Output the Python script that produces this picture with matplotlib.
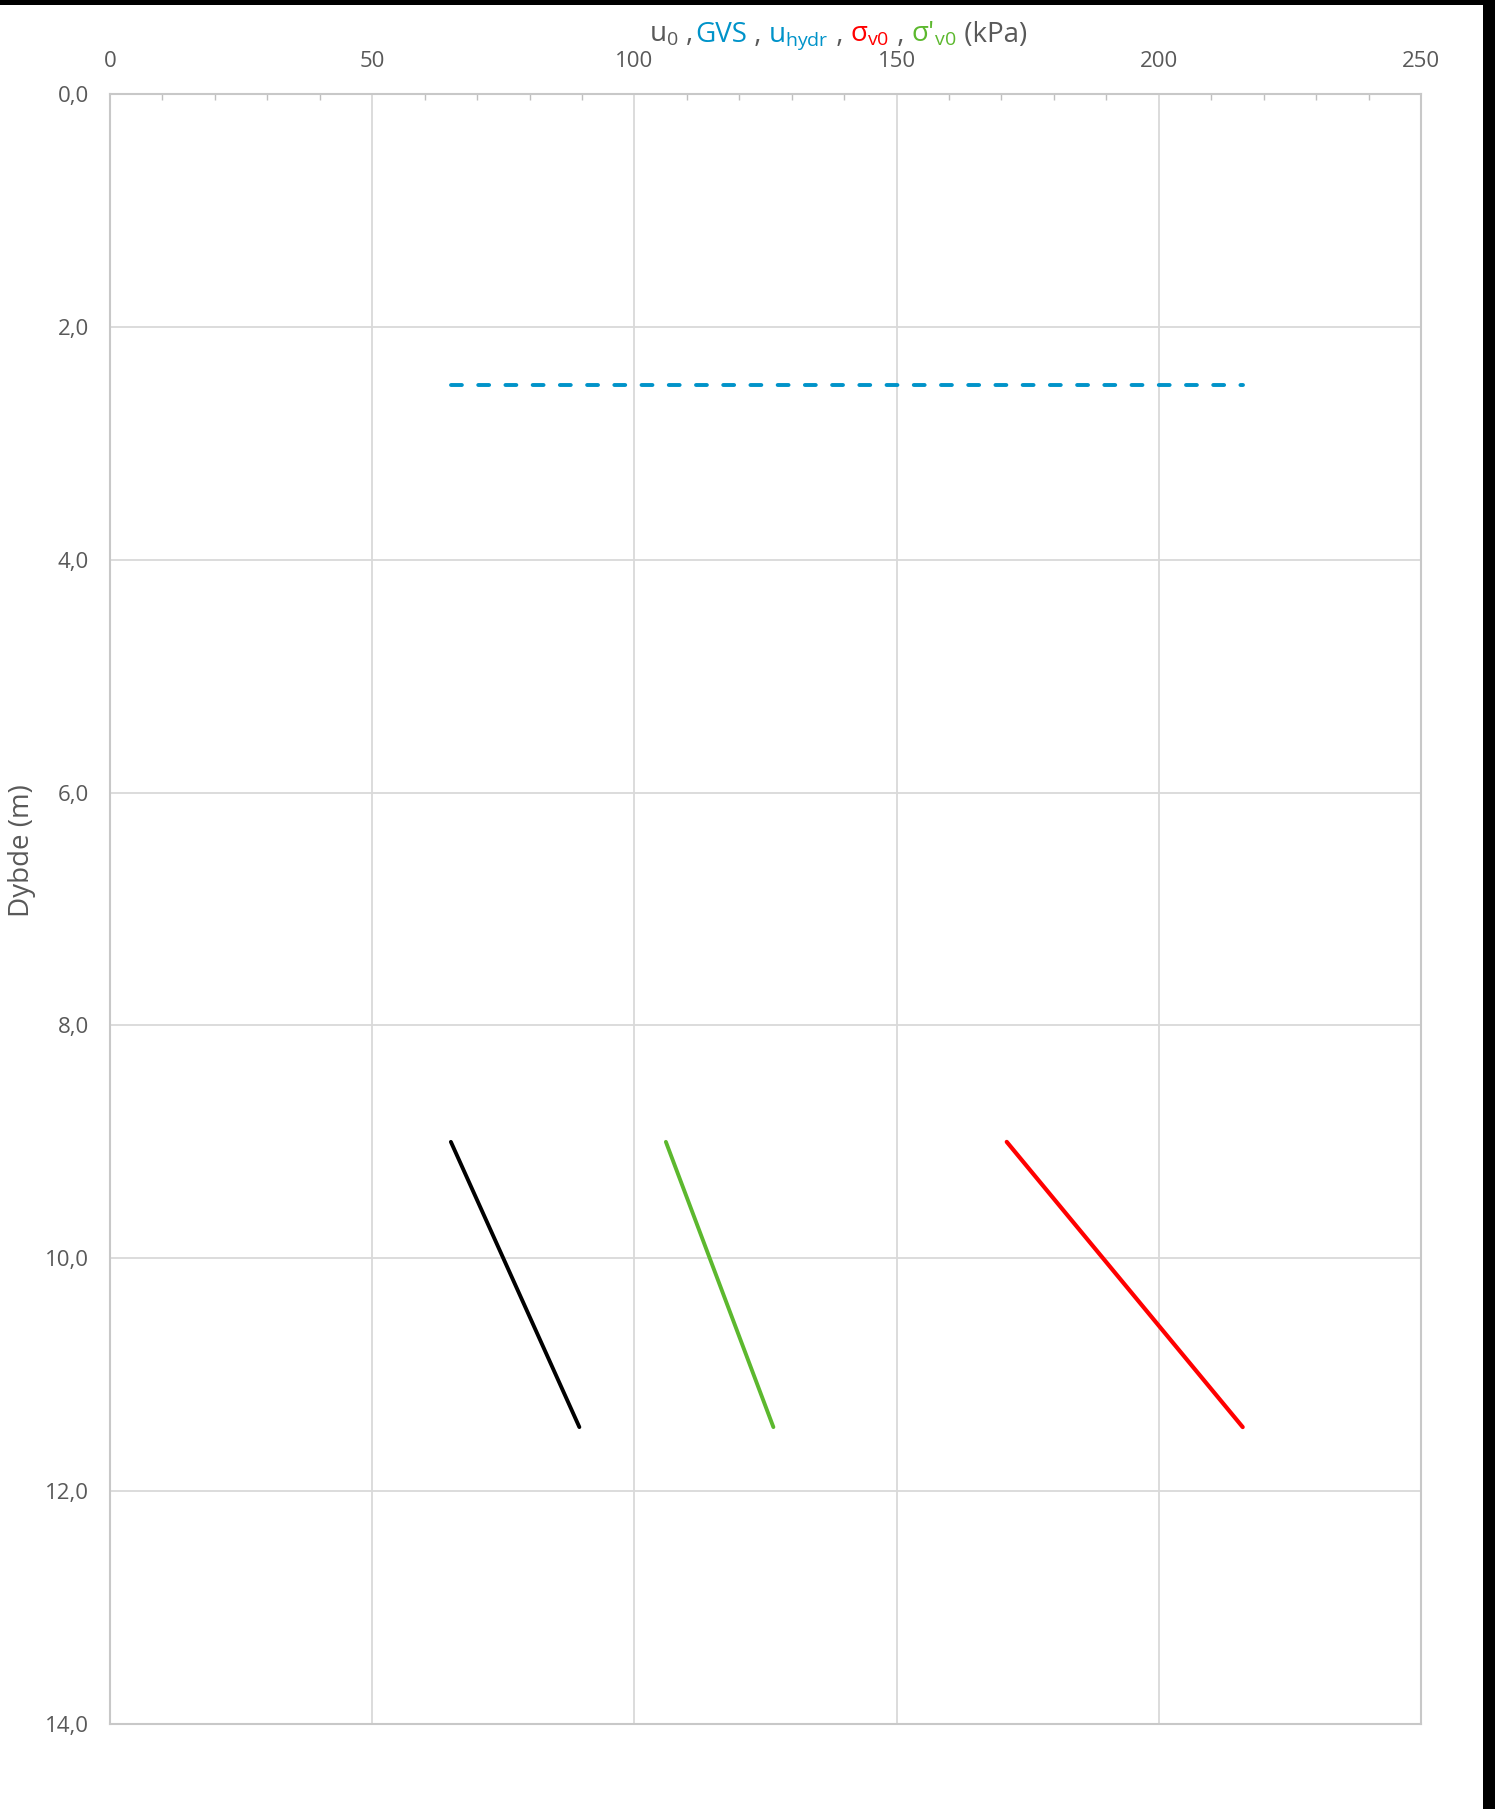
import matplotlib
matplotlib.use("Agg")
import matplotlib.pyplot as plt
from matplotlib.ticker import MultipleLocator, FuncFormatter
from matplotlib.offsetbox import TextArea, HPacker, AnchoredOffsetbox
from matplotlib.patches import Rectangle

plt.rcParams['font.family'] = ['Open Sans', 'DejaVu Sans']
plt.rcParams['mathtext.fontset'] = 'custom'
plt.rcParams['mathtext.rm'] = 'Open Sans'
plt.rcParams['mathtext.it'] = 'Open Sans'

# data
depth = [9.0, 11.45]
u0 = [65.0, 89.5]
sigma_v0 = [171.0, 216.0]
sigma_eff = [106.0, 126.5]
gvs_depth = [2.5, 2.5]
gvs_x = [65.0, 216.0]

gray = '#595959'
blue = '#0093c9'
red = '#ff0000'
green = '#5cb82e'

fig = plt.figure(figsize=(14.95, 18.09), dpi=100)
ax = fig.add_axes([0.0736, 0.047, 0.8769, 0.901])

ax.plot(gvs_x, gvs_depth, color=blue, lw=2.8, dashes=(2.8, 4.2),
        dash_capstyle='round')
ax.plot(u0, depth, color='black', lw=2.8, solid_capstyle='round')
ax.plot(sigma_eff, depth, color=green, lw=2.8, solid_capstyle='round')
ax.plot(sigma_v0, depth, color=red, lw=3.0, solid_capstyle='round')

ax.set_xlim(0, 250)
ax.set_ylim(14, 0)
ax.xaxis.set_major_locator(MultipleLocator(50))
ax.xaxis.set_minor_locator(MultipleLocator(10))
ax.yaxis.set_major_locator(MultipleLocator(2))
ax.yaxis.set_major_formatter(FuncFormatter(lambda v, p: f"{v:.1f}".replace('.', ',')))
ax.xaxis.tick_top()
ax.tick_params(axis='x', which='major', length=0, pad=16, labelsize=16, labelcolor=gray)
ax.tick_params(axis='x', which='minor', direction='in', length=4, width=1,
               color='#bfbfbf', top=True, bottom=False)
ax.tick_params(axis='y', which='both', length=0, pad=15, labelsize=16, labelcolor=gray)
ax.grid(True, which='major', color='#d9d9d9', lw=1.3)
ax.set_axisbelow(True)
for s in ax.spines.values():
    s.set_color('#c8c8c8')
    s.set_linewidth(1.5)

fig.text(22 / 1495, 1 - 851 / 1809, 'Dybde (m)', rotation=90, ha='center',
         va='center', fontsize=20, color=gray)

# multicoloured title
fs = 20
nb = '\u00a0'
parts = [
    (r"u$_0$" + nb + "," + nb, gray),
    ("GVS", blue),
    (nb + "," + nb, gray),
    (r"u$_\mathrm{hydr}$", blue),
    (nb + "," + nb, gray),
    (r"σ$_\mathrm{v0}$", red),
    (nb + "," + nb, gray),
    (r"σ'$_\mathrm{v0}$", green),
    (nb + "(kPa)", gray),
]
areas = [TextArea(t, textprops=dict(color=c, fontsize=fs)) for t, c in parts]
box = HPacker(children=areas, align='baseline', pad=0, sep=0)
anch = AnchoredOffsetbox(loc='center', child=box, frameon=False, pad=0, borderpad=0,
                         bbox_to_anchor=(838 / 1495, 1 - 36 / 1809),
                         bbox_transform=fig.transFigure)
fig.add_artist(anch)

# black frame edges
fig.add_artist(Rectangle((0, 1 - 5 / 1809), 1, 5 / 1809, transform=fig.transFigure,
                         color='black', lw=0))
fig.add_artist(Rectangle((1 - 12 / 1495, 0), 12 / 1495, 1, transform=fig.transFigure,
                         color='black', lw=0))

fig.savefig('out.png', dpi=100)
